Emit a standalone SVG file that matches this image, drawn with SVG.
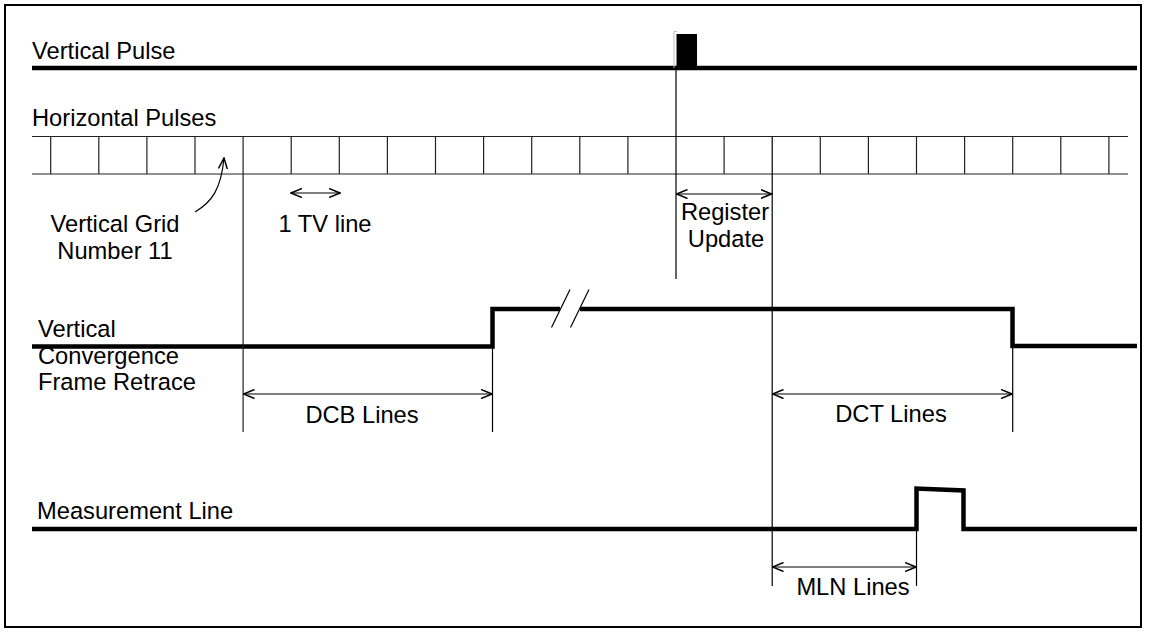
<svg xmlns="http://www.w3.org/2000/svg" width="1153" height="633" viewBox="0 0 1153 633">
<defs>
<marker id="ah" viewBox="0 0 12 10" refX="11" refY="5" markerWidth="12" markerHeight="10" markerUnits="userSpaceOnUse" orient="auto-start-reverse">
<path d="M0,0.5 L11,5 L0,9.5" fill="none" stroke="#000" stroke-width="1.5"/>
</marker>
</defs>
<style>
text{font-family:"Liberation Sans",Arial,sans-serif;font-size:23.7px;fill:#000}
.wave{fill:none;stroke:#000;stroke-width:4.5;stroke-linejoin:miter}
.thin{fill:none;stroke:#000;stroke-width:1.2}
.grid{fill:none;stroke:#222;stroke-width:1.2}
.dim{fill:none;stroke:#000;stroke-width:1.2;marker-start:url(#ah);marker-end:url(#ah)}
.mid{text-anchor:middle}
</style>
<rect x="5" y="5" width="1136" height="622" fill="#fff" stroke="#000" stroke-width="2"/>

<g id="vertical-pulse">
<text x="32" y="58.5">Vertical Pulse</text>
<path class="wave" d="M32,68 H1137"/>
<rect x="676.5" y="34" width="20.5" height="34" fill="#000"/>
<path d="M674,68 V31.5 H677" fill="none" stroke="#bbb" stroke-width="1"/>
</g>

<g id="horizontal-pulses">
<text x="32" y="126">Horizontal Pulses</text>
<path class="grid" d="M32,136.5 H1128 M32,174 H1128"/>
<path class="grid" d="M50.7,136.5V174 M98.8,136.5V174 M146.9,136.5V174 M195,136.5V174 M291.2,136.5V174 M339.3,136.5V174 M387.4,136.5V174 M435.5,136.5V174 M483.6,136.5V174 M531.7,136.5V174 M579.8,136.5V174 M627.9,136.5V174 M724.1,136.5V174 M820.3,136.5V174 M868.4,136.5V174 M916.5,136.5V174 M964.6,136.5V174 M1012.7,136.5V174 M1060.8,136.5V174 M1108.9,136.5V174"/>
</g>

<g id="grid-label">
<text class="mid" x="115" y="232">Vertical Grid</text>
<text class="mid" x="115" y="259">Number 11</text>
</g>

<g id="tv-line">
<text class="mid" x="325" y="232">1 TV line</text>
</g>

<g id="register-update">
<text class="mid" x="725" y="220">Register</text>
<text class="mid" x="726" y="247">Update</text>
</g>

<g id="vertical-convergence">
<text x="38" y="337">Vertical</text>
<text x="38" y="363.5">Convergence</text>
<text x="38" y="390">Frame Retrace</text>
<path class="wave" d="M32,346.5 H492.5 V309 H560"/>
<path class="wave" d="M580,309 H1012.5 V346 H1137"/>
<path class="thin" d="M551.5,327.5 L570,289.5 M570.5,327.5 L589,289.5"/>
<text class="mid" x="362" y="423">DCB Lines</text>
<text class="mid" x="891" y="422">DCT Lines</text>
</g>

<g id="measurement-line">
<text x="37" y="518.5">Measurement Line</text>
<path class="wave" d="M32,529 H916.5 V488.5 L963.5,490.5 V529 H1137"/>
<text class="mid" x="853" y="595">MLN Lines</text>
</g>

<g id="connectors">
<path class="grid" d="M243.1,136.5 V432"/>
<path class="thin" d="M676,68 V279"/>
<path class="thin" d="M772.2,136.5 V586"/>
<path class="thin" d="M492.5,347 V432"/>
<path class="thin" d="M1012.7,346 V432"/>
<path class="thin" d="M916.5,529 V586"/>
<path class="dim" d="M291,193 H340"/>
<path class="dim" d="M676.5,194 H771.5"/>
<path class="dim" d="M243.5,394 H492"/>
<path class="dim" d="M772.5,394 H1012"/>
<path class="dim" d="M772.5,567 H916"/>
<path d="M195,212 C212,202 221,189 224,158" fill="none" stroke="#000" stroke-width="1.2" marker-end="url(#ah)"/>
</g>
</svg>
